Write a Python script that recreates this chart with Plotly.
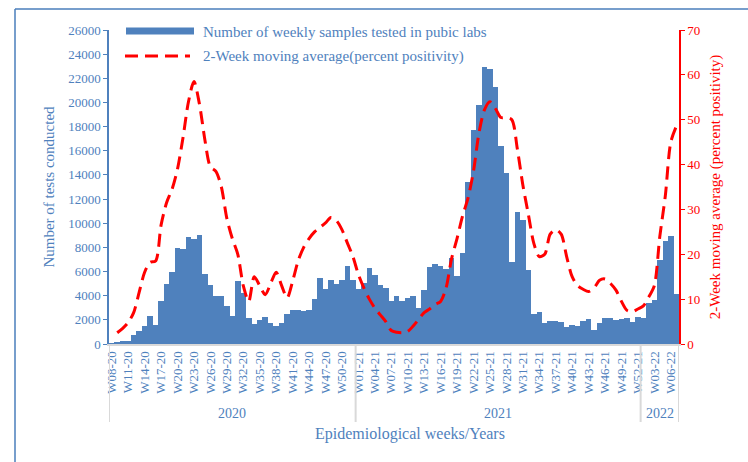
import plotly.graph_objects as go

# week categories: W08-20 .. W52-20, W01-21 .. W52-21, W01-22 .. W07-22
weeks = ([f"W{w:02d}-20" for w in range(8, 53)]
         + [f"W{w:02d}-21" for w in range(1, 53)]
         + [f"W{w:02d}-22" for w in range(1, 8)])
years = ["2020", "2021", "2022"]
year_first_week = ["W08-20", "W01-21", "W01-22"]
year_last_week = ["W52-20", "W52-21", "W07-22"]

samples = [
    50, 100, 230, 280, 780, 1060, 1530, 2300, 1600, 3550,
    5000, 6000, 7950, 7850, 8900, 8700, 9000, 5800, 4900, 4000,
    4000, 3150, 2300, 5250, 4230, 2150, 1650, 1950, 2200, 1750,
    1520, 1750, 2500, 2780, 2830, 2700, 2830, 3720, 5450, 4580,
    5320, 5000, 5320, 6480, 5320,
    4540, 5040, 6290, 5730, 4900, 4630, 3600, 3990, 3600, 3770,
    3990, 2960, 4490, 6340, 6620, 6430, 6200, 7100, 5650, 7530,
    13400, 17700, 19800, 22900, 22750, 21300, 16400, 14200, 6800, 10900,
    10300, 6100, 2500, 2650, 1700, 1910, 1910, 1860, 1440, 1580,
    1520, 1910, 2050, 1160, 1720, 2190, 2190, 2000, 2050, 2190,
    1860, 2270,
    2130, 3380, 3660, 6930, 8500, 8980, 4160,
]

positivity = [
    None, 2.5, 3.5, 4.8, 7.0, 11.5, 16.0, 18.2, 18.5, 26.5,
    31.5, 34.5, 39.0, 46.0, 54.0, 58.5, 53.5, 45.5, 39.5, 38.5,
    35.0, 28.0, 23.5, 20.0, 13.0, 9.5, 15.0, 13.0, 11.0, 13.5,
    16.0, 13.0, 10.3, 14.0, 18.5, 21.5, 23.5, 25.0, 26.0, 27.0,
    28.2, 27.5, 25.5, 22.5, 19.5,
    15.5, 12.5, 10.0, 8.0, 6.5, 5.0, 3.0, 2.6, 2.5, 2.8,
    4.0, 5.5, 7.0, 7.8, 8.8, 9.5, 12.5, 19.0, 23.5, 28.5,
    32.5, 38.5, 47.0, 52.2, 54.0, 52.5, 50.5, 50.5, 50.0, 43.5,
    35.5, 29.0, 22.5, 19.5, 20.0, 24.5, 25.5, 24.5, 19.5, 15.0,
    13.0, 12.2, 11.7, 12.5, 14.2, 14.5, 13.5, 12.0, 9.5, 7.5,
    7.2, 7.8,
    8.5, 10.5, 13.0, 24.0, 33.0, 45.0, 48.5,
]

BLUE = "#4F81BD"
RED = "#FF0000"
FONT = "Liberation Serif"

# plot area in pixels (for placing hand-drawn legend / frame)
L, R, T, B = 109, 679, 30, 344


def px_x(x):
    return (x - L) / (R - L)


def px_y(y):
    return (B - y) / (B - T)


fig = go.Figure()
fig.add_trace(go.Bar(x=weeks, y=samples, name="Number of weekly samples tested in pubic labs",
                     marker=dict(color=BLUE, line=dict(width=0))))
fig.add_trace(go.Scatter(x=weeks, y=positivity, yaxis="y2", mode="lines",
                         name="2-Week moving average(percent positivity)",
                         line=dict(color=RED, width=3, dash="13px,7px",
                                   shape="spline", smoothing=0.8)))

shapes = []
# year dividers under the x axis
for first in year_first_week:
    xi = weeks.index(first) - 0.5
    shapes.append(dict(type="line", xref="x", yref="paper", x0=xi, x1=xi,
                       y0=0, y1=px_y(422), line=dict(color="#D9D9D9", width=2)))
xe = len(weeks) - 0.5
shapes.append(dict(type="line", xref="x", yref="paper", x0=xe, x1=xe,
                   y0=0, y1=px_y(422), line=dict(color="#D9D9D9", width=2)))
# frame (left and top)
shapes.append(dict(type="line", xref="paper", yref="paper", x0=px_x(15), x1=px_x(15),
                   y0=px_y(9), y1=px_y(470), line=dict(color="#4A7EBB", width=1.5)))
shapes.append(dict(type="line", xref="paper", yref="paper", x0=px_x(15), x1=px_x(760),
                   y0=px_y(9), y1=px_y(9), line=dict(color="#4A7EBB", width=1.5)))
# legend symbols
shapes.append(dict(type="rect", xref="paper", yref="paper", x0=px_x(126), x1=px_x(194),
                   y0=px_y(34.5), y1=px_y(27.5), fillcolor=BLUE, line=dict(width=0)))
shapes.append(dict(type="line", xref="paper", yref="paper", x0=px_x(125), x1=px_x(190),
                   y0=px_y(56), y1=px_y(56), line=dict(color=RED, width=3, dash="13px,7px")))

annotations = []
for yr, first, last in zip(years, year_first_week, year_last_week):
    mid = (weeks.index(first) + weeks.index(last)) / 2
    annotations.append(dict(x=mid, y=px_y(413), xref="x", yref="paper", text=yr,
                            yanchor="middle", showarrow=False,
                            font=dict(family=FONT, size=14, color=BLUE)))
annotations.append(dict(x=px_x(410), y=px_y(434), xref="paper", yref="paper",
                        yanchor="middle", text="Epidemiological weeks/Years", showarrow=False,
                        font=dict(family=FONT, size=16, color=BLUE)))
annotations.append(dict(x=px_x(201), y=px_y(31.5), xref="paper", yref="paper",
                        xanchor="left", yanchor="middle",
                        text="Number of weekly samples tested in pubic labs", showarrow=False,
                        font=dict(family=FONT, size=15, color=BLUE)))
annotations.append(dict(x=px_x(201), y=px_y(57), xref="paper", yref="paper",
                        xanchor="left", yanchor="middle",
                        text="2-Week moving average(percent positivity)", showarrow=False,
                        font=dict(family=FONT, size=15, color=BLUE)))

fig.update_layout(
    width=748, height=462,
    margin=dict(l=L, r=748 - R, t=T, b=462 - B),
    plot_bgcolor="white", paper_bgcolor="white",
    bargap=0, showlegend=False,
    font=dict(family=FONT, color=BLUE),
    shapes=shapes, annotations=annotations,
    xaxis=dict(type="category", tickvals=weeks[::3], tickangle=-90,
               range=[-0.5, len(weeks) - 0.5],
               tickfont=dict(family=FONT, size=13, color=BLUE),
               showline=True, linecolor="#D9D9D9", linewidth=2,
               ticks="", showgrid=False),
    yaxis=dict(range=[0, 26000], dtick=2000, tickformat="d",
               showgrid=False, zeroline=False,
               showline=True, linecolor=BLUE, linewidth=1.5,
               ticks="outside", ticklen=4, tickcolor=BLUE,
               tickfont=dict(family=FONT, size=13, color=BLUE),
               title=dict(text="Number of tests conducted", standoff=10,
                          font=dict(family=FONT, size=15, color=BLUE))),
    yaxis2=dict(range=[0, 70], dtick=10, overlaying="y", side="right",
                showgrid=False, zeroline=False,
                showline=True, linecolor=RED, linewidth=1.5,
                ticks="outside", ticklen=4, tickcolor=RED,
                tickfont=dict(family=FONT, size=13, color=RED),
                title=dict(text="2-Week moving average (percent positivity)", standoff=10,
                           font=dict(family=FONT, size=15, color=RED))),
)

fig.write_html("out.html", config={"displayModeBar": False},
               post_script="document.body.style.margin='0';")
